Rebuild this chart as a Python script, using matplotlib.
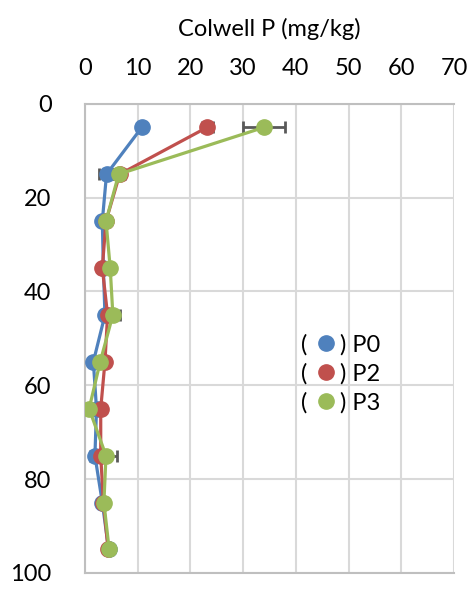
import numpy as np
import matplotlib.pyplot as plt
from matplotlib.ticker import MultipleLocator

plt.rcParams['font.family'] = ['Lato', 'DejaVu Sans']

# Soil depth (cm) and Colwell P (mg/kg) per treatment
depth = [5, 15, 25, 35, 45, 55, 65, 75, 85, 95]
p0 = [10.8, 4.1, 3.3, 3.5, 3.8, 1.6, 2.2, 1.9, 3.3, 4.5]
p2 = [23.2, 6.6, 4.0, 3.3, 4.3, 3.8, 3.0, 3.0, 3.5, 4.4]
p3 = [34.0, 6.4, 4.0, 4.8, 5.3, 2.9, 0.8, 4.0, 3.6, 4.6]
p0_err = [0.5, 1.5, 0.4, 0.3, 0.5, 0.5, 0.4, 0.9, 0.4, 0.3]
p2_err = [1.0, 1.0, 0.4, 0.4, 0.4, 0.4, 0.3, 0.5, 0.3, 0.4]
p3_err = [4.0, 0.8, 0.4, 0.5, 1.3, 0.4, 0.3, 2.1, 0.3, 0.5]

series = [("P0", p0, p0_err, "#4F81BD"),
          ("P2", p2, p2_err, "#C0504D"),
          ("P3", p3, p3_err, "#9BBB59")]

fig = plt.figure(figsize=(4.77, 5.90), dpi=100)
ax = fig.add_axes([0.178, 0.029, 0.774, 0.795])

for name, vals, err, col in series:
    ax.errorbar(vals, depth, xerr=err, fmt="none", ecolor="#595959",
                elinewidth=2, capsize=4.5, capthick=2, zorder=2)
    ax.plot(vals, depth, color=col, lw=2.3, marker="o", ms=11,
            label=name, zorder=3)

ax.set_xlim(0, 70)
ax.set_ylim(100, 0)
ax.xaxis.set_major_locator(MultipleLocator(10))
ax.yaxis.set_major_locator(MultipleLocator(20))
ax.xaxis.tick_top()
ax.xaxis.set_label_position("top")
ax.set_xlabel("Colwell P (mg/kg)", fontsize=17, labelpad=16)
ax.tick_params(axis="both", length=0, labelsize=17)
ax.tick_params(axis="x", pad=18)
ax.tick_params(axis="y", pad=24)
ax.grid(True, color="#D9D9D9", lw=1.5)
ax.set_axisbelow(True)
ax.spines["right"].set_visible(False)
for side in ["left", "top", "bottom"]:
    ax.spines[side].set_color("#BFBFBF")
    ax.spines[side].set_linewidth(1.5)

# Excel-style legend: "( marker ) name"
for i, (name, vals, err, col) in enumerate(series):
    y = 0.487 - i * 0.062
    ax.text(0.585, y, "(", transform=ax.transAxes, fontsize=17,
            va="center", ha="left")
    ax.plot([0.652], [y + 0.003], transform=ax.transAxes, marker="o",
            ms=11, color=col, clip_on=False)
    ax.text(0.69, y, ") " + name, transform=ax.transAxes, fontsize=17,
            va="center", ha="left")

fig.savefig("out.png", dpi=100)
